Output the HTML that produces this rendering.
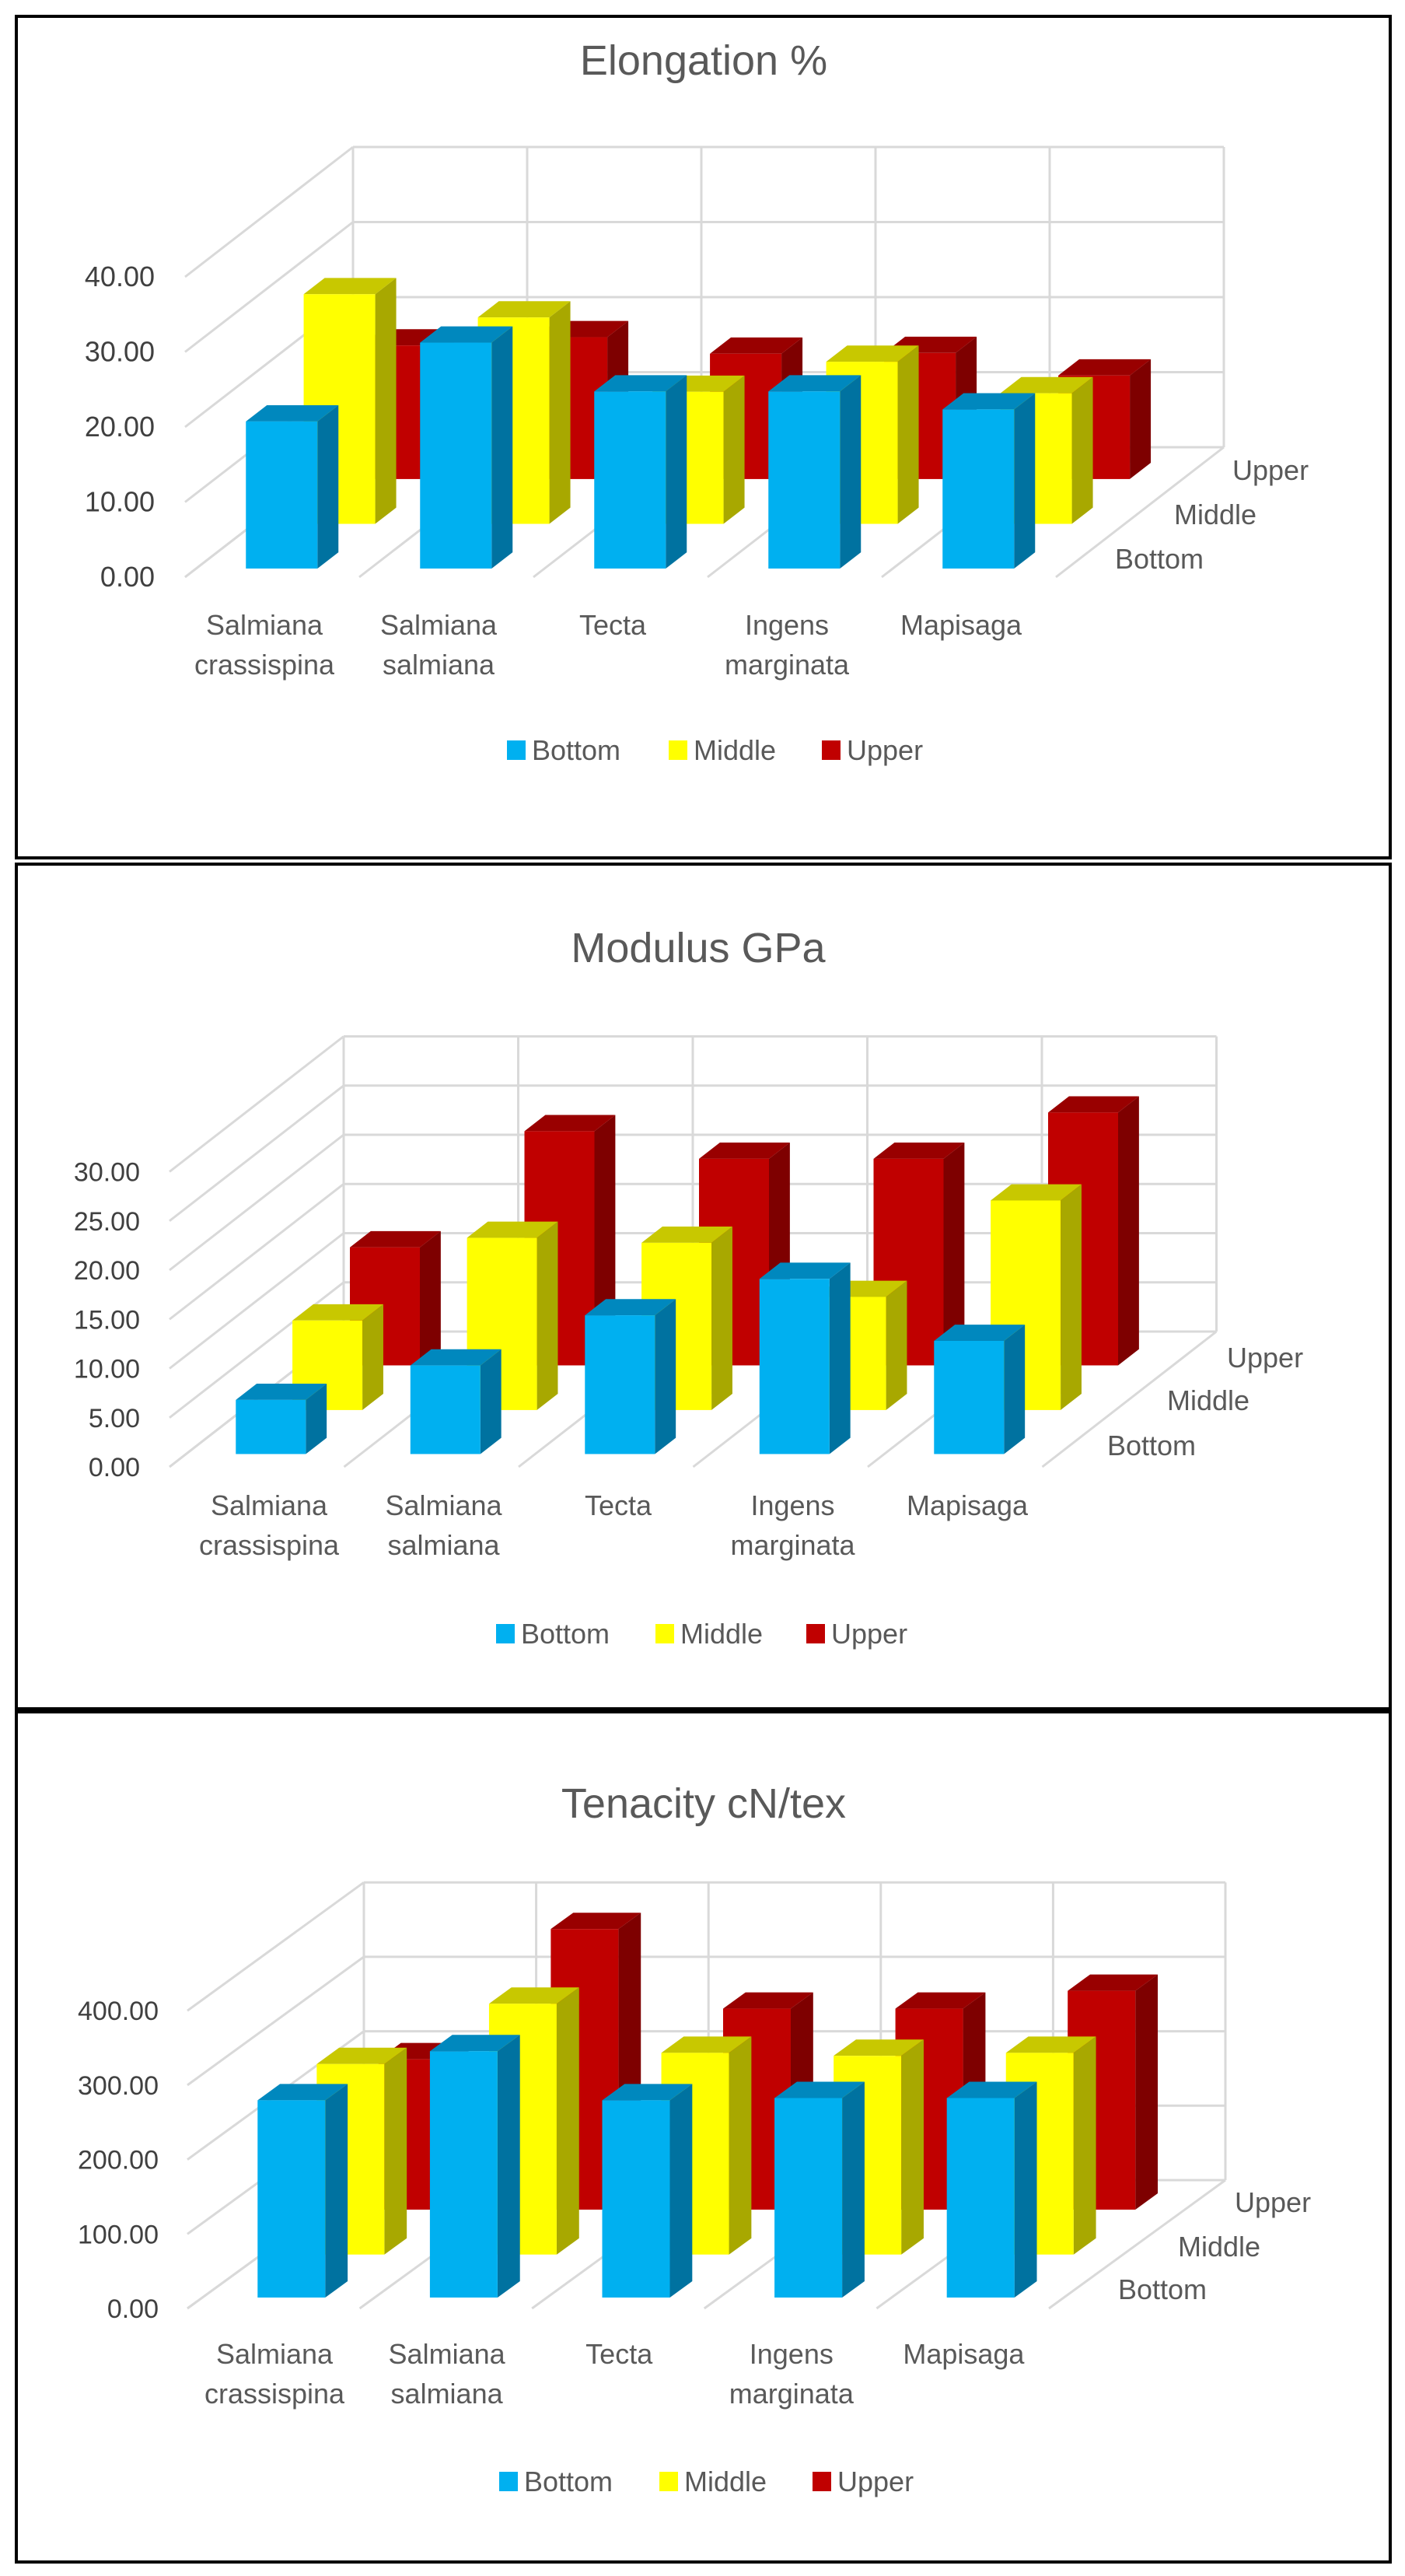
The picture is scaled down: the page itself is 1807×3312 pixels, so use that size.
<!DOCTYPE html>
<html><head><meta charset="utf-8">
<style>
html,body{margin:0;padding:0;background:#fff;}
svg{display:block;}
text{font-family:"Liberation Sans",sans-serif;}
</style></head>
<body>
<svg id="root" xmlns="http://www.w3.org/2000/svg" width="1807" height="3312" viewBox="0 0 1807 3312">
<rect x="0" y="0" width="1807" height="3312" fill="#fff"/>
<rect x="21" y="21" width="1767" height="1082" fill="none" stroke="#000" stroke-width="4"/>
<rect x="21" y="1111" width="1767" height="1086" fill="none" stroke="#000" stroke-width="4"/>
<rect x="21" y="2201" width="1767" height="1093" fill="none" stroke="#000" stroke-width="4"/>
</svg>
<script>
// ---- data ----
const categories = ["Salmiana|crassispina","Salmiana|salmiana","Tecta","Ingens|marginata","Mapisaga"];
const seriesNames = ["Bottom","Middle","Upper"];

const elongBottom = [19.6, 30.1, 23.6, 23.6, 21.2];
const elongMiddle = [30.6, 27.5, 17.6, 21.6, 17.4];
const elongUpper  = [17.8, 18.9, 16.7, 16.8, 13.8];
const elongTicks  = [0, 10, 20, 30, 40];
const elongTickLabels = ["0.00","10.00","20.00","30.00","40.00"];

const modBottom = [5.5, 9.0, 14.1, 17.8, 11.5];
const modMiddle = [9.1, 17.5, 17.0, 11.5, 21.3];
const modUpper  = [12.0, 23.8, 21.0, 21.0, 25.7];
const modTicks  = [0, 5, 10, 15, 20, 25, 30];
const modTickLabels = ["0.00","5.00","10.00","15.00","20.00","25.00","30.00"];

const tenBottom = [265, 331, 265, 268, 268];
const tenMiddle = [256, 337, 271, 267, 271];
const tenUpper  = [202, 377, 270, 270, 294];
const tenTicks  = [0, 100, 200, 300, 400];
const tenTickLabels = ["0.00","100.00","200.00","300.00","400.00"];

// ---- layout ----
const NS = "http://www.w3.org/2000/svg";
const root = document.getElementById('root');
const colors = [
  {front:"#00B0F0", side:"#0072A0", top:"#0088BE"},
  {front:"#FFFF00", side:"#A8A800", top:"#C8C800"},
  {front:"#C00000", side:"#7E0000", top:"#990000"}
];
function mk(tag, attrs, parent){
  const e = document.createElementNS(NS, tag);
  for (const k in attrs) e.setAttribute(k, attrs[k]);
  (parent||root).appendChild(e);
  return e;
}
function drawChart(cfg){
  const g = mk('g', {});
  
  
  const t = mk('text', {x:cfg.titleX, y:cfg.titleY, 'text-anchor':'middle', 'font-size':54, fill:'#595959'}, g);
  t.textContent = cfg.title;
  
  
  const n = categories.length;
  const maxV = cfg.ticks[cfg.ticks.length-1];
  const fy = v => cfg.y0 - v*cfg.scale;                 // front plane y
  const px = (i, d) => cfg.fx + i*cfg.cw + d*cfg.dx;    // category start at depth d
  const py = (v, d) => fy(v) + d*cfg.dy;
  const grid = {stroke:'#d9d9d9', 'stroke-width':3, fill:'none'};
  // back wall horizontal gridlines + left wall diagonals
  cfg.ticks.forEach((v, k) => {
    const l = mk('line', Object.assign({x1:px(0,1), y1:py(v,1), x2:px(n,1), y2:py(v,1)}, grid), g);
    
    
    const dg = mk('line', Object.assign({x1:px(0,0), y1:py(v,0), x2:px(0,1), y2:py(v,1)}, grid), g);
    
    
    const tl = mk('text', {x:cfg.labelRight, y:fy(v)+12, 'text-anchor':'end', 'font-size':cfg.tickFont, fill:'#404040'}, g);
    tl.textContent = cfg.tickLabels[k];
    
    
  });
  // back wall verticals and floor diagonals
  for (let i=0;i<=n;i++){
    const vl = mk('line', Object.assign({x1:px(i,1), y1:py(0,1), x2:px(i,1), y2:py(maxV,1)}, grid), g);
    
    
    const fl = mk('line', Object.assign({x1:px(i,0), y1:py(0,0), x2:px(i,1), y2:py(0,1)}, grid), g);
    
    
  }
  // bars, back row first
  const series = [cfg.bottom, cfg.middle, cfg.upper];
  const bdx = cfg.bd*cfg.dx, bdy = cfg.bd*cfg.dy;
  for (let r=2;r>=0;r--){
    const d = cfg.rows[r];
    for (let i=0;i<n;i++){
      const v = series[r][i];
      const x = px(i,d) + cfg.off, w = cfg.bw;
      const yb = py(0,d), yt = py(v,d);
      const bg = mk('g', {}, g);
      
      
      mk('polygon', {points:`${x+w},${yb} ${x+w+bdx},${yb+bdy} ${x+w+bdx},${yt+bdy} ${x+w},${yt}`, fill:colors[r].side}, bg);
      mk('polygon', {points:`${x},${yt} ${x+bdx},${yt+bdy} ${x+w+bdx},${yt+bdy} ${x+w},${yt}`, fill:colors[r].top}, bg);
      mk('rect', {x:x, y:yt, width:w, height:yb-yt, fill:colors[r].front}, bg);
    }
  }
  // category labels
  categories.forEach((c, i) => {
    const parts = c.split('|');
    parts.forEach((p, j) => {
      const tx = mk('text', {x:cfg.fx + i*cfg.cw + cfg.labOff, y:cfg.catY + j*51, 'text-anchor':'middle', 'font-size':36, fill:'#595959'}, g);
      tx.textContent = p;
      
      
    });
  });
  // series (depth) labels
  cfg.serLab.forEach((s, r) => {
    const tx = mk('text', {x:s[0], y:s[1]+12, 'font-size':36, fill:'#595959'}, g);
    tx.textContent = seriesNames[r];
    
    
  });
  // legend
  cfg.legend.forEach((lx, r) => {
    const sw = mk('rect', {x:lx, y:cfg.legY-12, width:24, height:25, fill:colors[r].front}, g);
    
    
    const tx = mk('text', {x:lx+32, y:cfg.legY+13, 'font-size':36, fill:'#595959'}, g);
    tx.textContent = seriesNames[r];
    
    
  });
}
drawChart({key:'elongation', title:'Elongation %', titleX:905, titleY:96,
  bottom:elongBottom, middle:elongMiddle, upper:elongUpper, ticks:elongTicks, tickLabels:elongTickLabels,
  y0:742, scale:9.65, fx:238, cw:224, dx:216, dy:-167, rows:[0.066,0.41,0.755], bd:0.125, off:64, bw:92,
  labelRight:199, tickFont:36, labOff:102, catY:816,
  serLab:[[1434,719],[1510,662],[1585,605]], legend:[652,860,1057], legY:964});
drawChart({key:'modulus', title:'Modulus GPa', titleX:898, titleY:1237,
  bottom:modBottom, middle:modMiddle, upper:modUpper, ticks:modTicks, tickLabels:modTickLabels,
  y0:1886, scale:12.65, fx:218, cw:224.5, dx:224, dy:-174, rows:[0.095,0.42,0.75], bd:0.12, off:64, bw:90,
  labelRight:180, tickFont:34, labOff:128, catY:1948,
  serLab:[[1424,1859],[1501,1801],[1578,1746]], legend:[638,843,1037], legY:2100});
drawChart({key:'tenacity', title:'Tenacity cN/tex', titleX:905, titleY:2337,
  bottom:tenBottom, middle:tenMiddle, upper:tenUpper, ticks:tenTicks, tickLabels:tenTickLabels,
  y0:2968, scale:0.957, fx:241, cw:221.6, dx:227, dy:-165, rows:[0.085,0.42,0.77], bd:0.127, off:71, bw:87,
  labelRight:204, tickFont:34, labOff:112, catY:3039,
  serLab:[[1438,2944],[1515,2889],[1588,2832]], legend:[642,848,1045], legY:3190});
</script>
</body></html>
